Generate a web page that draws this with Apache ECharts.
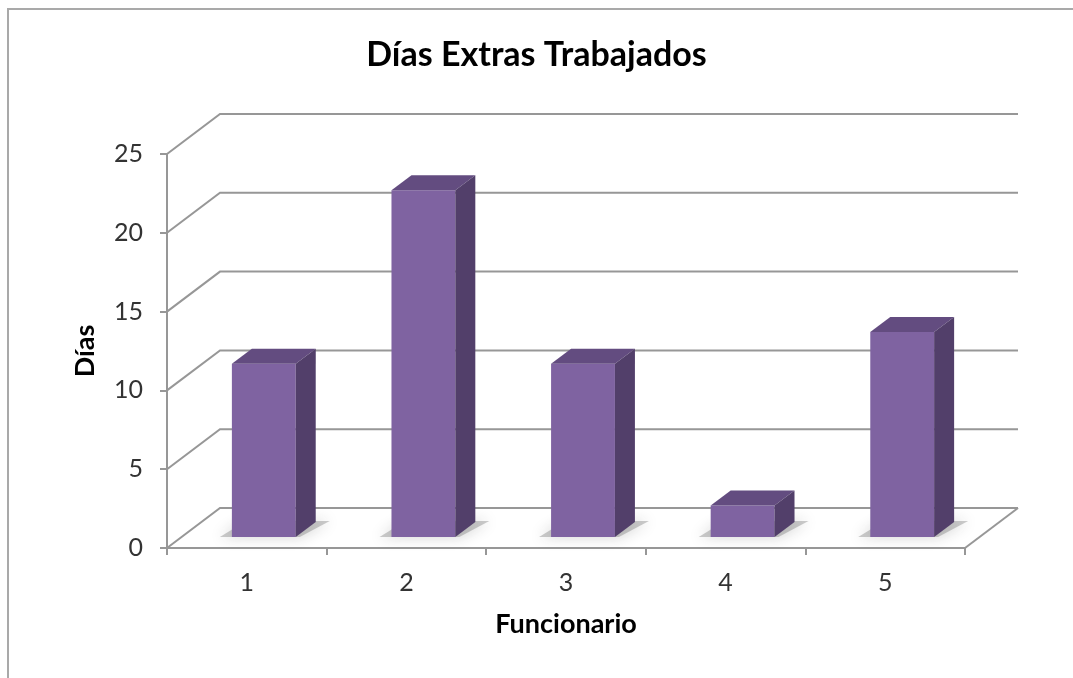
<!DOCTYPE html>
<html>
<head>
<meta charset="utf-8">
<script src="https://cdn.jsdelivr.net/npm/echarts@6/dist/echarts.min.js"></script>
<style>
  html, body { margin: 0; padding: 0; background: #fff; }
  #chart { width: 1073px; height: 678px; }
</style>
</head>
<body>
<div id="chart"></div>
<script>
// Días extra trabajados por cada funcionario
const funcionarios = ['1', '2', '3', '4', '5'];
const diasExtras = [11, 22, 11, 2, 13];
const yTicks = [0, 5, 10, 15, 20, 25];

const FONT = '"Century Gothic", "Lato", "DejaVu Sans", sans-serif';

// Depth of the pseudo-3D box (back wall offset from the front plane)
const DEPTH_X = 53, DEPTH_Y = -40;
// Bar front face offset from front plane, and bar depth
const BAR_OFF_X = 17, BAR_OFF_Y = -11;
const BAR_DX = 20, BAR_DY = -15;

const FRONT = '#7f63a1';
const TOP = '#634c80';
const SIDE = '#523f6a';
const GRID_COLOR = '#979797';

const chart = echarts.init(document.getElementById('chart'), null, { renderer: 'canvas' });

// Back wall gridlines, side-wall diagonals and floor outline
function renderWalls(params, api) {
  const cs = params.coordSys;
  const v = api.value(0);
  const y = api.coord([0, v])[1];
  const left = cs.x, right = cs.x + cs.width;
  const children = [{
    type: 'polyline',
    shape: { points: [[left, y], [left + DEPTH_X, y + DEPTH_Y], [right + DEPTH_X, y + DEPTH_Y]] },
    style: { stroke: GRID_COLOR, lineWidth: 2, fill: null }
  }];
  if (v === 0) {
    children.push({
      type: 'line',
      shape: { x1: right, y1: y, x2: right + DEPTH_X, y2: y + DEPTH_Y },
      style: { stroke: GRID_COLOR, lineWidth: 2 }
    });
  }
  return { type: 'group', children: children };
}

// 3D-looking column: soft floor shadow, front face, top face, side face
function renderBar(params, api) {
  const idx = api.value(0);
  const val = api.value(1);
  const top = api.coord([idx, val]);
  const base = api.coord([idx, 0]);
  const band = api.size([1, 0])[0];
  const w = band * 0.4;
  const x0 = top[0] + BAR_OFF_X - w / 2;
  const x1 = x0 + w;
  const yt = top[1] + BAR_OFF_Y;
  const yb = base[1] + BAR_OFF_Y;
  return {
    type: 'group',
    children: [
      {
        type: 'polygon',
        shape: { points: [
          [x0 - 12, yb], [x1 + 4, yb],
          [x1 + BAR_DX + 14, yb + BAR_DY - 1], [x0 + BAR_DX - 6, yb + BAR_DY - 1]
        ] },
        style: { fill: 'rgba(110,110,110,0.35)', shadowBlur: 14, shadowColor: 'rgba(40,40,40,0.6)' }
      },
      {
        type: 'rect',
        shape: { x: x0, y: yt, width: w, height: yb - yt },
        style: { fill: FRONT }
      },
      {
        type: 'polygon',
        shape: { points: [[x0, yt], [x1, yt], [x1 + BAR_DX, yt + BAR_DY], [x0 + BAR_DX, yt + BAR_DY]] },
        style: { fill: TOP }
      },
      {
        type: 'polygon',
        shape: { points: [[x1, yt], [x1 + BAR_DX, yt + BAR_DY], [x1 + BAR_DX, yb + BAR_DY], [x1, yb]] },
        style: { fill: SIDE }
      }
    ]
  };
}

chart.setOption({
  animation: false,
  backgroundColor: '#fff',
  title: {
    text: 'Días Extras Trabajados',
    left: 'center',
    top: 33,
    textStyle: { fontFamily: FONT, fontWeight: 'bold', fontSize: 34, color: '#000' }
  },
  grid: { left: 167, top: 154, width: 798, height: 394 },
  xAxis: {
    type: 'category',
    data: funcionarios,
    name: 'Funcionario',
    nameLocation: 'middle',
    nameGap: 63,
    nameTextStyle: { fontFamily: FONT, fontWeight: 'bold', fontSize: 27, color: '#000' },
    axisLine: { lineStyle: { color: GRID_COLOR, width: 2 } },
    axisTick: { show: true, length: 7, alignWithLabel: false, lineStyle: { color: GRID_COLOR, width: 2 } },
    axisLabel: { fontFamily: FONT, fontSize: 25, color: '#333', margin: 22 },
    splitLine: { show: false }
  },
  yAxis: {
    type: 'value',
    min: 0,
    max: 25,
    interval: 5,
    name: 'Días',
    nameLocation: 'middle',
    nameGap: 68,
    nameTextStyle: { fontFamily: FONT, fontWeight: 'bold', fontSize: 27, color: '#000' },
    axisLine: { show: true, lineStyle: { color: GRID_COLOR, width: 2 } },
    axisTick: { show: true, length: 7, lineStyle: { color: GRID_COLOR, width: 2 } },
    axisLabel: { fontFamily: FONT, fontSize: 25, color: '#333', margin: 24 },
    splitLine: { show: false }
  },
  graphic: [{
    type: 'polyline',
    shape: { points: [[8, 700], [8, 9], [1100, 9]] },
    style: { fill: null, stroke: '#a9a9a9', lineWidth: 2 },
    z: 100
  }],
  series: [
    {
      type: 'custom',
      name: 'walls',
      renderItem: renderWalls,
      data: yTicks.map(v => [v]),
      encode: { y: 0 },
      silent: true,
      z: 1
    },
    {
      type: 'custom',
      name: 'Días',
      renderItem: renderBar,
      data: diasExtras.map((v, i) => [i, v]),
      encode: { x: 0, y: 1 },
      z: 2
    }
  ]
});
</script>
</body>
</html>
